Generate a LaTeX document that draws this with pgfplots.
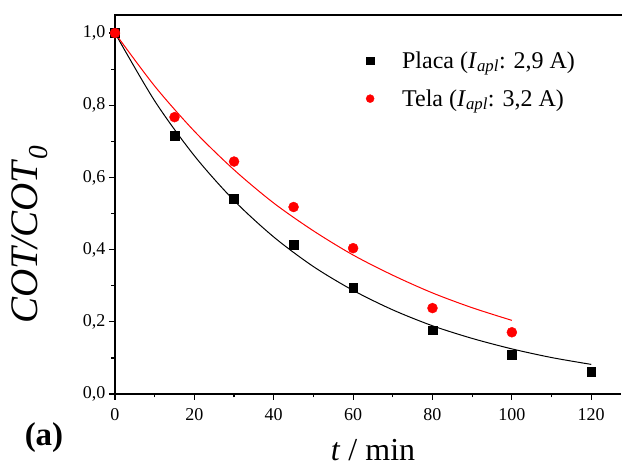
\documentclass[border=0pt]{standalone}
\usepackage{fontspec}
\setmainfont{Liberation Serif}
\usepackage{pgfplots}
\pgfplotsset{compat=1.18}
\begin{document}
\begin{tikzpicture}
\begin{axis}[
  scale only axis,
  width=506pt, height=379pt,
  xmin=0, xmax=127.5, ymin=0, ymax=1.05,
  axis x line*=bottom, axis y line*=left,
  axis line style={line width=1.6pt, -},
  xtick={0,20,...,120}, ytick={0,0.2,...,1.0},
  minor x tick num=1, minor y tick num=1,
  tick align=outside,
  major tick length=6pt, minor tick length=3.5pt,
  tick style={line width=1.2pt, black},
  /pgf/number format/assume math mode=true,
  /pgf/number format/use comma,
  yticklabel style={/pgf/number format/fixed, /pgf/number format/fixed zerofill, /pgf/number format/precision=1},
  xticklabel style={yshift=-5pt},
  ticklabel style={font=\fontsize{18}{20}\selectfont},
  xlabel={\textit{t} / min},
  ylabel={\textit{COT/COT}\textsubscript{\textit{0}}},
  every axis x label/.style={at={(rel axis cs:0.51,-0.148)}, anchor=center, font=\fontsize{32}{36}\selectfont},
  every axis y label/.style={at={(rel axis cs:-0.168,0.421)}, anchor=center, rotate=90, font=\fontsize{39}{44}\selectfont},
  legend style={draw=none, fill=none, at={(rel axis cs:0.49,0.915)}, anchor=north west,
    font=\fontsize{24}{28}\selectfont, row sep=16pt, column sep=26pt},
  legend cell align=left,
  clip=false,
]
\addplot[only marks, mark=square*, mark size=4.4pt, black, legend image post style={mark size=3.7pt}] coordinates {
 (0,1.0) (15,0.715) (30,0.540) (45,0.413) (60,0.295) (80,0.177) (100,0.108) (120,0.062)};
\addlegendentry{Placa (\textit{I}\textsubscript{\textit{apl}}: 2,9 A)}
\addplot[only marks, mark=*, mark size=5pt, red, legend image post style={mark size=4pt}] coordinates {
 (0,1.0) (15,0.767) (30,0.644) (45,0.518) (60,0.404) (80,0.238) (100,0.171)};
\addlegendentry{Tela (\textit{I}\textsubscript{\textit{apl}}: 3,2 A)}
\addplot[black, line width=1pt, smooth, forget plot] coordinates {
 (0,1.0) (10,0.812) (20,0.660) (30,0.536) (40,0.435) (50,0.353) (60,0.287) (70,0.233) (80,0.189) (90,0.154) (100,0.125) (110,0.101) (120,0.082)};
\addplot[red, line width=1pt, smooth, forget plot] coordinates {
 (0,1.0) (10,0.853) (20,0.728) (30,0.621) (40,0.529) (50,0.452) (60,0.385) (70,0.329) (80,0.280) (90,0.239) (100,0.204)};
\end{axis}
\draw[line width=1.6pt] (-0.8pt,379pt) -- (510pt,379pt);
\node[font=\fontsize{33}{36}\selectfont\bfseries, anchor=center] at (-71pt,-44pt) {(a)};
\pgfresetboundingbox
\useasboundingbox (-115pt,-72pt) rectangle (507pt,394pt);
\end{tikzpicture}
\end{document}
